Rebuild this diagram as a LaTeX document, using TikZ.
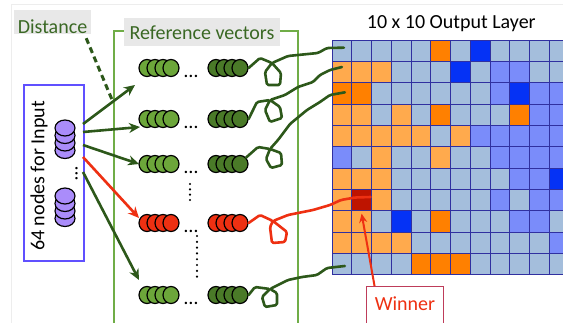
\documentclass[tikz,border=0pt]{standalone}
\usepackage{fontspec}
\setmainfont{Carlito}
\usetikzlibrary{arrows.meta,shapes.geometric}

\definecolor{txtgreen}{RGB}{58,104,36}
\definecolor{arrgreen}{RGB}{45,88,26}
\definecolor{refgreen}{RGB}{112,173,71}
\definecolor{beadlight}{RGB}{108,166,58}
\definecolor{beaddark}{RGB}{74,122,40}
\definecolor{hotred}{RGB}{238,48,18}
\definecolor{labelgray}{RGB}{232,232,232}
\definecolor{inblue}{RGB}{96,80,255}
\definecolor{beadpurple}{RGB}{170,140,250}
\definecolor{winframe}{RGB}{190,60,90}
\definecolor{gridline}{RGB}{48,48,160}
\definecolor{cellL}{RGB}{164,190,220}
\definecolor{cellM}{RGB}{122,140,250}
\definecolor{cellB}{RGB}{5,50,245}
\definecolor{cellO}{RGB}{255,170,77}
\definecolor{cellD}{RGB}{255,128,0}
\definecolor{cellR}{RGB}{190,20,0}

\tikzset{
  bead/.style={ellipse, draw=black, line width=1.2pt, minimum width=16pt,
    minimum height=17pt, inner sep=0pt},
  pbead/.style={ellipse, draw=black, line width=1.2pt, minimum width=20pt,
    minimum height=16pt, inner sep=0pt, fill=beadpurple},
  cell/.style={rectangle, draw=gridline, line width=0.8pt, minimum width=19.75pt,
    minimum height=21.333pt, inner sep=0pt, outer sep=0pt, anchor=north west},
  arr/.style={draw=arrgreen, line width=2.6pt, -{Stealth[length=11pt,width=10pt]}},
  knot/.style={draw=arrgreen, line width=2.6pt, line join=round, line cap=round,
    rounded corners=1.5pt},
  graylabel/.style={fill=labelgray, inner xsep=0pt, inner ysep=0pt, text=txtgreen},
  dotcol/.style={line width=2.4pt, line cap=round},
}

% a row of four overlapping beads: name prefix, left edge, centre line, fill
\newcommand\beadrow[4]{%
  \foreach \i in {1,...,4} \node[bead, fill=#4] (#1\i) at ({#2+8*\i},#3) {};}

\begin{document}
\begin{tikzpicture}[x=1pt, y=-1pt, font=\fontsize{20}{24}\selectfont]
\useasboundingbox (0,0) rectangle (563,322);
\clip (0,0) rectangle (563,322);
\fill[white] (0,0) rectangle (563,322);
\draw[black!7, line width=0.8pt] (11,330) -- (11,4) -- (570,4);

% output map
\foreach \rowcols [count=\r from 0] in {
  {L,L,L,L,L,D,L,B,L,L,L,L},
  {O,O,O,L,L,L,B,L,M,M,L,L},
  {D,D,L,L,L,L,L,L,M,B,M,M},
  {O,O,L,O,L,D,L,L,L,D,M,M},
  {O,O,O,O,O,L,O,M,M,M,M,M},
  {M,L,O,L,L,O,L,L,M,M,M,M},
  {O,O,O,L,L,L,L,L,L,M,M,B},
  {O,R,O,L,L,L,L,L,M,L,M,M},
  {O,O,L,B,L,D,L,L,L,M,M,L},
  {O,O,O,O,L,L,L,L,L,L,L,M},
  {L,L,L,L,D,D,D,L,L,L,L,L}}
{
  \foreach \k [count=\c from 0] in \rowcols
    \node[cell, fill=cell\k] (c-\c-\r) at ({332+19.75*\c},{40+21.333*\r}) {};
}
\node[anchor=base] (title) at (451.3,28.3) {10 x 10 Output Layer};

% reference vectors frame
\draw[refgreen, line width=1.5pt] (114,330) -- (114,31) -- (298,31) -- (298,330);
\node[graylabel, anchor=base, minimum width=156pt, text height=21pt, text depth=7pt]
  (reflab) at (202,39) {Reference vectors};

% distance label
\node[graylabel, anchor=base, minimum width=77pt, text height=23pt, text depth=1pt]
  (dist) at (52.5,33) {Distance};
\coordinate (dend) at (113,102);
\draw[arrgreen, line width=3pt, dash pattern=on 6pt off 4pt]
  ([xshift=-5pt,yshift=-4pt]dist.south east) -- (dend);

% input layer
\node[draw=inblue, line width=1.8pt, minimum width=60pt, minimum height=176pt,
  inner sep=0pt, anchor=north west] (inbox) at (23,84) {};
\node[rotate=90, anchor=base] (intext) at (44.5,176) {64 nodes for Input};
\foreach \yy [count=\i] in {150.5,143,135.5,128} \node[pbead] (pa\i) at (65,\yy) {};
\foreach \yy [count=\i] in {218.5,211,203.5,196} \node[pbead] (pb\i) at (65,\yy) {};
\node[rotate=90, anchor=base] (indots) at (77.5,174) {…};

% reference vectors
\beadrow{a1-}{139}{68}{beadlight}   \beadrow{b1-}{208}{68}{beaddark}
\beadrow{a2-}{139}{119}{beadlight}  \beadrow{b2-}{208}{119}{beaddark}
\beadrow{a3-}{139}{164}{beadlight}  \beadrow{b3-}{208}{164}{beaddark}
\beadrow{a4-}{139}{223}{hotred}     \beadrow{b4-}{208}{223}{hotred}
\beadrow{a5-}{139}{295}{beadlight}  \beadrow{b5-}{208}{295}{beaddark}
\foreach \yy [count=\i] in {68,119,164,223,295}
  \node[anchor=base] (hd\i) at (191,\yy+9.5) {…};
\draw[dotcol, dash pattern=on 0pt off 5.33pt] (190,184) -- (190,200.5);
\draw[dotcol, dash pattern=on 0pt off 5.8pt] (197,236) -- (197,277);

% input to reference vectors
\coordinate (s1) at (83,124);  \coordinate (t1) at (135,85);
\coordinate (s2) at (83,132);  \coordinate (t2) at (140,127);
\coordinate (s3) at (83,145);  \coordinate (t3) at (139,164);
\coordinate (s4) at (83,157);  \coordinate (t4) at (139,218);
\coordinate (s5) at (83,172);  \coordinate (t5) at (139,280);
\draw[arr] (s1) -- (t1);
\draw[arr] (s2) -- (t2);
\draw[arr] (s3) -- (t3);
\draw[arr, draw=hotred] (s4) -- (t4);
\draw[arr] (s5) -- (t5);

% reference vectors to map units
\draw[knot] (b1-4.east) -- (260,58) -- (272,63) -- (265,72) -- (267,85) -- (280,85)
  -- (281,73) -- (272,63) -- (288,56) -- (318,53) -- (327,48)
  -- ([shift={(2pt,3pt)}]c-0-0.center);
\draw[knot] (b2-4.east) -- (257,102) -- (270,100) -- (265,110) -- (270,122) -- (282,118)
  -- (280,107) -- (270,100) -- (285,95) -- (298,87) -- (313,82) -- (320,75) -- (330,70)
  -- ([yshift=5pt]c-0-1.center);
\draw[knot] (b3-4.north east) -- (258,147) -- (270,149) -- (266,159) -- (271,168)
  -- (282,165) -- (281,153) -- (270,149) -- (278,140) -- (290,124) -- (307,110)
  -- (320,102) -- (330,95) -- ([shift={(3pt,1pt)}]c-0-2.center);
\draw[knot, draw=hotred] (b4-4.east) -- (260,215) -- (273,221) -- (270,227) -- (272,243)
  -- (285,242) -- (287,232) -- (273,221) -- (288,215) -- (313,210) -- (330,205)
  -- (341,200) -- (355,197.5) -- ([shift={(9pt,3pt)}]c-1-7.center);
\draw[knot] (b5-4.east) -- (255,287) -- (270,289) -- (262,297) -- (265,307) -- (277,305)
  -- (277,293) -- (270,289) -- (288,280) -- (302,277) -- (317,275) -- (327,268)
  -- ([shift={(3pt,-2pt)}]c-0-10.center);

% winner
\node[draw=winframe, line width=1.3pt, anchor=base, minimum width=76.6pt,
  inner xsep=0pt, inner ysep=0pt, text height=23.3pt, text depth=16pt,
  text=hotred] (win) at (405,310) {Winner};
\draw[hotred, line width=2pt, -{Stealth[length=9pt,width=8pt]}]
  ([xshift=8.5pt]win.north west) -- ([yshift=-3pt]c-1-7.south);
\end{tikzpicture}
\end{document}
